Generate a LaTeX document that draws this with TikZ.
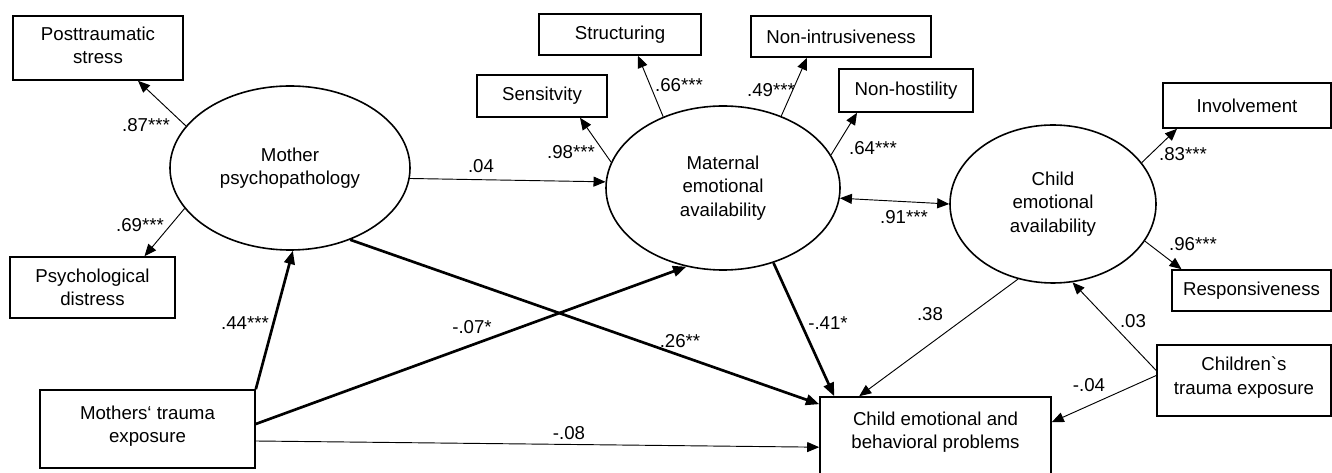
\documentclass[tikz,border=0pt]{standalone}
\usepackage{fontspec}
\setmainfont{Liberation Sans}[Ligatures=TeXOff]
\usetikzlibrary{shapes.geometric,arrows.meta,calc}

\begin{document}
\begin{tikzpicture}[x=0.75pt,y=-0.75pt,
        font=\fontsize{14}{17.5}\selectfont,
        lat/.style={ellipse, draw, line width=1.2pt, inner sep=0pt, align=center},
        obs/.style={rectangle, draw, line width=1.2pt, inner sep=0pt, align=center},
        coef/.style={inner sep=0pt},
        path/.style={line width=0.7pt, -{Triangle[length=9pt,width=7.5pt]}},
        bold/.style={line width=2pt, -{Triangle[length=10pt,width=8pt]}},
        twoway/.style={line width=0.7pt, {Triangle[length=9pt,width=7.5pt]}-{Triangle[length=9pt,width=7.5pt]}}]
        \clip (0,0) rectangle (1332,473);
        %ellipses
            \node[lat, minimum width=180pt, minimum height=123pt] (mp) at (290,168) {Mother\\psychopathology};
            \node[lat, minimum width=175.5pt, minimum height=123pt] (mea) at (723,188) {Maternal\\emotional\\availability};
            \node[lat, minimum width=154.5pt, minimum height=118.5pt] (cea) at (1053,204) {Child\\emotional\\availability};
        % boxes
            \node[obs, minimum width=127.5pt, minimum height=48pt, text depth=4pt] (pts) at (98,48) {Posttraumatic\\stress};
            \node[obs, minimum width=123.75pt, minimum height=45.75pt] (pd) at (92.5,287.5) {Psychological\\distress};
            \node[obs, minimum width=161.25pt, minimum height=58.5pt, text depth=7.5pt] (mte) at (147.5,429) {Mothers‘ trauma\\exposure};
            \node[obs, minimum width=97.5pt, minimum height=31.5pt] (sens) at (542,96) {Sensitvity};
            \node[obs, minimum width=121.5pt, minimum height=30.75pt] (struc) at (620,34.5) {Structuring};
            \node[obs, minimum width=135pt, minimum height=30.75pt] (nonint) at (841,36.5) {Non-intrusiveness};
            \node[obs, minimum width=100.5pt, minimum height=32.25pt] (nonhost) at (906,90.5) {Non-hostility};
            \node[obs, minimum width=126pt, minimum height=33.75pt] (inv) at (1247,105.5) {Involvement};
            \node[obs, minimum width=119.25pt, minimum height=30.75pt] (resp) at (1251.5,290.5) {Responsiveness};
            \node[obs, minimum width=130.5pt, minimum height=53.25pt, text depth=7.5pt] (cte) at (1244,380.5) {Children`s\\trauma exposure};
            \node[obs, minimum width=173.25pt, minimum height=62.25pt, text depth=12pt] (ceb) at (935.5,438.5) {Child emotional and\\behavioral problems};
        % arrows
            \draw[path] (mp.158) -- ($(pts.south)+(40,0)$);
            \draw[path] (mp.201) -- ($(pd.north)+(52,0)$);
            \draw[bold] (mte.north east) -- (mp.272);
            \draw[path] (mp.355) -- (mea.177);
            \draw[bold] (mp.310) -- ($(ceb.north west)+(0,8)$);
            \draw[bold] ($(mte.east)+(0,-5)$) -- (mea.245.5);
            \draw[path] ($(mte.east)+(0,12)$) -- ($(ceb.north west)+(0,51)$);
            \draw[path] (mea.167) -- ($(sens.south)+(38,0)$);
            \draw[path] (mea.130) -- ($(struc.south)+(18,0)$);
            \draw[path] (mea.51) -- ($(nonint.south)+(-34,0)$);
            \draw[path] (mea.17) -- ($(nonhost.south)+(-49,0)$);
            \draw[twoway] (mea.355) -- (cea.180);
            \draw[bold] (mea.304) -- ($(ceb.north west)+(15,0)$);
            \draw[path] (cea.25) -- ($(inv.south)+(-70,0)$);
            \draw[path] (cea.338) -- ($(resp.north)+(-70,0)$);
            \draw[path] (cea.245) -- ($(ceb.north west)+(40,0)$);
            \draw[path] ($(cte.west)+(0,-10)$) -- (cea.284);
            \draw[path] ($(cte.west)+(0,-5)$) -- ($(ceb.north east)+(0,26)$);
        %nodes
            \node[coef] (c87) at (146,125) {.87***};
            \node[coef] (c69) at (140,225) {.69***};
            \node[coef] (c44) at (245,323) {.44***};
            \node[coef] (c04) at (481,166) {.04};
            \node[coef] (c98) at (571,152) {.98***};
            \node[coef] (c66) at (679,85) {.66***};
            \node[coef] (c49) at (771,90) {.49***};
            \node[coef] (c64) at (873,148) {.64***};
            \node[coef] (c91) at (904,217) {.91***};
            \node[coef] (c83) at (1183,154) {.83***};
            \node[coef] (c96) at (1193,244) {.96***};
            \node[coef] (c38) at (930,314) {.38};
            \node[coef] (c03) at (1133,321) {.03};
            \node[coef] (cm04) at (1089,385) {-.04};
            \node[coef] (cm07) at (472,327) {-.07*};
            \node[coef] (c26) at (680,341) {.26**};
            \node[coef] (cm41) at (828,323) {-.41*};
            \node[coef] (cm08) at (569,433) {-.08};
\end{tikzpicture}
\end{document}
